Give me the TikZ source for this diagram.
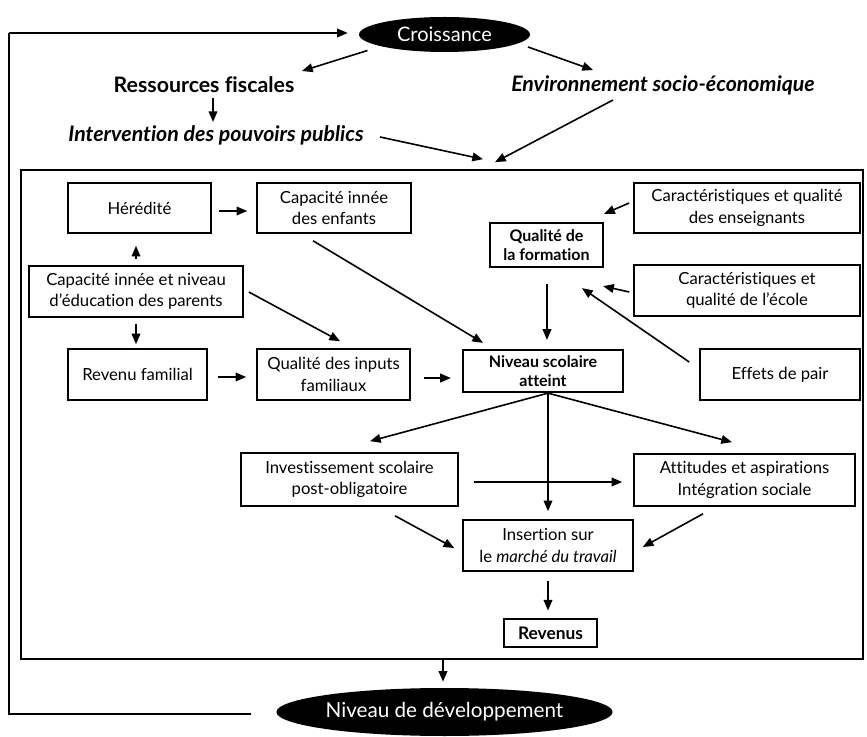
\documentclass[tikz,border=0pt]{standalone}
\usepackage{fontspec}
\setmainfont[Ligatures=NoCommon]{Lato}
\usetikzlibrary{arrows.meta,shapes.geometric,calc}
\begin{document}
\begin{tikzpicture}[x=0.75pt,y=-0.75pt,
  every node/.style={font=\fontsize{12.5}{16}\selectfont},
  bx/.style 2 args={draw, line width=1.2pt, align=center, inner sep=0pt,
    minimum width=#1*0.75pt, minimum height=#2*0.75pt},
  thick box/.style={line width=1.7pt, font=\fontsize{12}{14}\selectfont\bfseries},
  ell/.style 2 args={ellipse, fill=black, text=white, inner sep=0pt,
    minimum width=#1*0.75pt, minimum height=#2*0.75pt},
  lbl/.style={font=\fontsize{16}{18}\selectfont\bfseries},
  lbli/.style={font=\fontsize{16}{18}\selectfont\bfseries\itshape},
  arr/.style={line width=1.2pt, -{Triangle[length=8pt,width=6.5pt]}},
  ln/.style={line width=1.2pt}]
\useasboundingbox (0,0) rectangle (867,737);

% ellipses
\node[ell={171}{35}, font=\fontsize{15}{17}\selectfont] (cro) at (444.5,34.5) {Croissance};
\node[ell={325}{48}, font=\fontsize{15.5}{17}\selectfont] (nd) at (444.5,712) {Niveau de développement};

% top labels
\node[lbl] (rf) at (204,85) {Ressources fiscales};
\node[lbli] (env) at (663,85) {Environnement socio-économique};
\node[lbli] (ipp) at (216,135) {Intervention des pouvoirs publics};

% big frame
\node[draw, line width=1.2pt, inner sep=0pt, minimum width=842*0.75pt, minimum height=489*0.75pt] (big) at (442,414.5) {};

% inner boxes
\node[bx={143}{50}] (her) at (139.5,208) {Hérédité};
\node[bx={154}{50}] (cie) at (334,208) {Capacité innée\\des enfants};
\node[bx={214}{51}] (par) at (136,291.5) {Capacité innée et niveau\\d’éducation des parents};
\node[bx={139}{51}] (rev) at (137.5,374.5) {Revenu familial};
\node[bx={153}{51}] (inp) at (333.5,374.5) {Qualité des inputs\\familiaux};
\node[bx={226}{50}] (ens) at (747,208) {Caractéristiques et qualité\\des enseignants};
\node[bx={113}{44}, thick box] (qf) at (546.5,245) {Qualité de\\la formation};
\node[bx={226}{51}] (eco) at (747,290.5) {Caractéristiques et\\qualité de l’école};
\node[bx={160}{51}] (pair) at (780,374.5) {Effets de pair};
\node[bx={160}{42}, thick box] (nsa) at (543,371) {Niveau scolaire\\atteint};
\node[bx={217}{53}] (inv) at (349.5,479.5) {Investissement scolaire\\post-obligatoire};
\node[bx={221}{52}] (att) at (744.5,480) {Attitudes et aspirations\\Intégration sociale};
\node[bx={170}{51}] (ins) at (548,545.5) {Insertion sur\\le \textit{marché du travail}};
\node[bx={93}{28}, thick box, line width=2.2pt, font=\fontsize{13}{15}\selectfont\bfseries] (revn) at (550.5,633) {Revenus};

% feedback loop
\coordinate (fbB) at (9,714);
\coordinate (fbT) at (9,33);
\draw[ln] ($(nd.west)+(-25,2)$) -- (fbB) -- (fbT);
\draw[arr] (fbT) -- ($(cro.west)+(-11,-1.5)$);

% top arrows
\draw[arr] ($(cro)+(-77,16)$) -- ($(rf)+(98,-14)$);
\draw[arr] ($(cro)+(83.5,12.5)$) -- ($(env)+(-70,-15)$);
\draw[arr] ($(rf)+(9,13)$) -- ($(ipp)+(-3,-13)$);
\draw[arr] ($(ipp)+(164,2)$) -- ($(big.north)+(41,-10)$);
\draw[arr] ($(env)+(-50,15)$) -- ($(big.north)+(53,-7)$);

% left part
\draw[arr] ($(par.north)+(0,-6)$) -- ($(her.south)+(-3.5,12)$);
\draw[arr] ($(her.east)+(7,3)$) -- ($(cie.west)+(-9,3)$);
\draw[arr] ($(par.south)+(0,6)$) -- ($(rev.north)+(-1.5,-4)$);
\draw[arr] ($(par.east)+(5,0.5)$) -- ($(inp.north)+(6.5,-7)$);
\draw[arr] ($(rev.east)+(10,2.5)$) -- ($(inp.west)+(-10,2.5)$);
\draw[arr] ($(cie.south)+(-21,7)$) -- ($(nsa.north)+(-60,-6)$);
\draw[arr] ($(inp.east)+(13,3.5)$) -- ($(nsa.west)+(-11,7)$);

% right part
\draw[arr] ($(ens.west)+(-4,-5)$) -- ($(qf.north east)+(0,-8)$);
\draw[arr] ($(eco.west)+(-4,1.5)$) -- ($(qf.south east)+(-1,18)$);
\draw[arr] ($(pair.west)+(-10,-12.5)$) -- ($(qf.south)+(35.5,20)$);
\draw[arr] ($(qf.south)+(0.5,16)$) -- ($(nsa.north)+(4,-9)$);

% lower part
\draw[arr] ($(nsa.south)+(5,0)$) -- ($(inv.north)+(20.5,-11)$);
\draw[arr] ($(nsa.south)+(5,0)$) -- ($(ins.north)+(0,-8)$);
\draw[arr] ($(nsa.south)+(5,0)$) -- ($(att.north)+(-12.5,-11)$);
\draw[arr] ($(inv.east)+(15,2.5)$) -- ($(att.west)+(-11,2)$);
\draw[arr] ($(inv.south)+(45.5,9)$) -- ($(ins.west)+(-8,2.5)$);
\draw[arr] ($(att.south)+(-41.5,7)$) -- ($(ins.east)+(9,1.5)$);
\draw[arr] ($(ins.south)+(0,9)$) -- ($(revn.north)+(-2.5,-7)$);
\draw[arr] ($(big.south)+(1,0)$) -- ($(nd.north)+(-1.5,-6)$);
\end{tikzpicture}
\end{document}
